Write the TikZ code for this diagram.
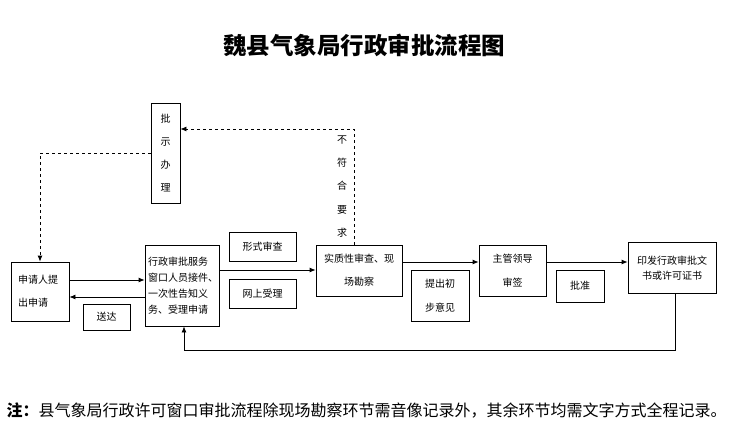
\documentclass[tikz,border=0pt]{standalone}
\usepackage{fontspec}
\newfontfamily\cjk{Noto Sans CJK SC}
\usepackage{tikz}
\usetikzlibrary{arrows.meta, positioning}

\begin{document}
\begin{tikzpicture}[x=1pt, y=-1pt]
\tikzset{every node/.style = {font=\cjk\fontsize{10}{11}\selectfont}}
\tikzset{box/.style = {draw, line width=0.8pt, inner sep=0pt, align=center}}
\tikzset{flow/.style = {line width=0.8pt, -{Latex[length=6pt,width=5pt]}}}
\useasboundingbox (0,0) rectangle (731,439);
% title and note
\node (title) at (364,45) {\fontsize{23.5}{26}\selectfont\bfseries 魏县气象局行政审批流程图};
\node[anchor=west] (note) at (3,410) {\fontsize{16}{18}\selectfont\textbf{注：}县气象局行政许可窗口审批流程除现场勘察环节需音像记录外，其余环节均需文字方式全程记录。};
% boxes
\node[box, minimum width=29, minimum height=100, font=\cjk\fontsize{10}{23}\selectfont] (pishi) at (165.5,153) {批\\示\\办\\理};
\node[box, minimum width=58, minimum height=59] (shenqing) at (40,291.5) {\parbox{44pt}{\fontsize{10}{23}\selectfont 申请人提\\出申请}};
\node[box, minimum width=74, minimum height=81] (xingzheng) at (182,285.5) {\parbox{68pt}{\fontsize{10}{16}\selectfont 行政审批服务\\窗口人员接件、\\一次性告知义\\务、受理申请}};
\node[box, minimum width=67, minimum height=29] (xingshi) at (262.5,246.5) {形式审查};
\node[box, minimum width=67, minimum height=29] (wangshang) at (262.5,293.5) {网上受理};
\node[box, minimum width=47, minimum height=26] (songda) at (106.5,317) {送达};
\node[box, minimum width=86, minimum height=51, font=\cjk\fontsize{10}{23}\selectfont] (shizhi) at (359,270.5) {实质性审查、现\\场勘察};
\node[box, minimum width=58, minimum height=51, font=\cjk\fontsize{10}{24}\selectfont] (tichu) at (440,295.5) {提出初\\步意见};
\node[box, minimum width=67, minimum height=51, font=\cjk\fontsize{10}{24}\selectfont] (zhuguan) at (512.5,270.5) {主管领导\\审签};
\node[box, minimum width=48, minimum height=32] (pizhun) at (580,286) {批准};
\node[box, minimum width=88, minimum height=51, font=\cjk\fontsize{10}{15}\selectfont] (yinfa) at (672,268) {印发行政审批文\\书或许可证书};
\node[align=center, font=\cjk\fontsize{10}{23.2}\selectfont] (buhe) at (342,186.5) {不\\符\\合\\要\\求};
\coordinate (back) at (184,350);
% arrows
\draw[flow, dashed] (pishi.west) -| (shenqing.north);
\draw[flow, dashed] ([xshift=-5pt]shizhi.north) |- ([yshift=24pt]pishi.east);
\draw[flow] (shenqing.east |- 0,280) -- (xingzheng.west |- 0,280);
\draw[flow] (xingzheng.west |- 0,297) -- (shenqing.east |- 0,297);
\draw[flow] (xingzheng.east |- 0,270) -- (shizhi.west |- 0,270);
\draw[flow] (shizhi.east |- 0,262) -- (zhuguan.west |- 0,262);
\draw[flow] (zhuguan.east |- 0,262) -- (yinfa.west |- 0,262);
\draw[flow] ([xshift=3pt]yinfa.south) |- (back) -- (back |- xingzheng.south);
\end{tikzpicture}
\end{document}
